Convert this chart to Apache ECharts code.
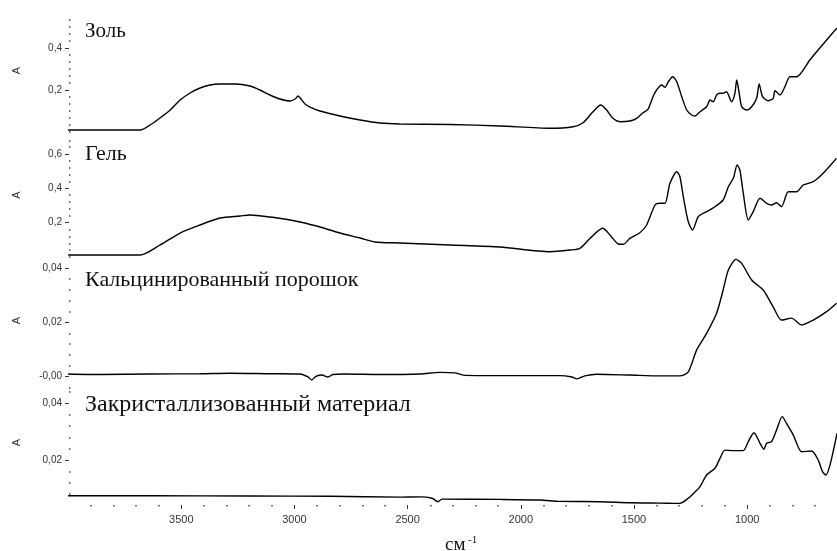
<!DOCTYPE html>
<html><head><meta charset="utf-8">
<script src="https://cdn.jsdelivr.net/npm/echarts@6/dist/echarts.min.js"></script>
<style>html,body{margin:0;padding:0;background:#fff}#c{width:837px;height:551px}</style>
</head><body><div id="c"></div>
<script>
// ---- data (wavenumber, cm-1 / absorbance A) ----
const solWn = [4000,3859,3682,3638,3594,3549,3505,3461,3417,3373,3329,3262,3196,3152,3108,3064,3019,2997,2984,2971,2953,2931,2887,2799,2710,2622,2534,2313,2092,1871,1769,1725,1681,1647,1621,1593,1562,1518,1488,1460,1438,1416,1400,1378,1363,1348,1329,1311,1289,1267,1245,1231,1208,1179,1164,1150,1135,1120,1107,1091,1069,1054,1046,1035,1024,1002,980,958,947,932,907,885,877,855,833,811,781,723,679,603];
const solA = [0.0095,0.0095,0.0095,0.0333,0.0667,0.1048,0.1524,0.1857,0.2095,0.2238,0.2286,0.2286,0.2190,0.2000,0.1762,0.1571,0.1476,0.1571,0.1714,0.1571,0.1333,0.1190,0.1000,0.0762,0.0571,0.0429,0.0381,0.0357,0.0286,0.0176,0.0252,0.0443,0.0967,0.1286,0.1048,0.0652,0.0490,0.0524,0.0652,0.0919,0.1081,0.1681,0.2000,0.2238,0.2129,0.2395,0.2633,0.2395,0.1681,0.1048,0.0810,0.0762,0.0967,0.1205,0.1524,0.1443,0.1762,0.1843,0.1843,0.1919,0.1443,0.1843,0.2476,0.1843,0.1205,0.1048,0.1205,0.1605,0.2286,0.1681,0.1490,0.1605,0.1967,0.1762,0.2157,0.2633,0.2633,0.3429,0.4000,0.4952];

const gelWn = [4000,3682,3594,3505,3417,3329,3240,3196,3108,3019,2975,2887,2799,2710,2644,2534,2313,2092,1871,1783,1739,1694,1638,1606,1569,1547,1518,1474,1444,1407,1385,1363,1341,1311,1297,1282,1260,1241,1216,1179,1142,1106,1083,1061,1044,1032,1017,995,973,943,914,892,870,848,818,782,752,708,664,605];
const gelA = [0.0119,0.0119,0.0701,0.1400,0.1866,0.2274,0.2390,0.2448,0.2332,0.2157,0.2041,0.1750,0.1400,0.1109,0.0876,0.0818,0.0701,0.0585,0.0311,0.0410,0.0509,0.1091,0.1674,0.1284,0.0759,0.0742,0.1091,0.1418,0.1866,0.3031,0.3130,0.3130,0.4295,0.4970,0.4679,0.3514,0.2058,0.1575,0.2349,0.2641,0.2932,0.3322,0.4097,0.4586,0.5361,0.5069,0.3712,0.2157,0.2641,0.3421,0.3130,0.3031,0.3165,0.2932,0.3805,0.3805,0.4196,0.4388,0.4877,0.5751];

const calcWn = [4000,3859,3638,3417,3284,3108,2975,2940,2924,2905,2878,2852,2830,2777,2622,2445,2357,2291,2255,2092,1827,1774,1752,1717,1665,1518,1385,1297,1260,1223,1179,1135,1106,1083,1049,1024,980,929,885,848,804,760,708,649,605];
const calcA = [0.0010,0.0008,0.0010,0.0011,0.0013,0.0011,0.0010,-0.0001,-0.0012,0.0001,0.0006,-0.0001,0.0008,0.0010,0.0008,0.0010,0.0016,0.0014,0.0006,0.0004,0.0004,-0.0001,-0.0008,0.0003,0.0009,0.0006,0.0003,0.0003,0.0018,0.0099,0.0160,0.0234,0.0320,0.0394,0.0433,0.0418,0.0357,0.0320,0.0258,0.0209,0.0216,0.0191,0.0209,0.0240,0.0271];

const crysWn = [4000,3638,3196,2843,2534,2445,2392,2366,2348,2092,1915,1827,1650,1518,1385,1297,1260,1231,1208,1179,1142,1120,1098,1061,1017,995,970,943,926,914,892,870,845,826,796,759,715,686,667,652,634,612,603];
const crysA = [0.0074,0.0074,0.0073,0.0072,0.0069,0.0070,0.0065,0.0053,0.0062,0.0061,0.0059,0.0054,0.0053,0.0049,0.0048,0.0047,0.0065,0.0087,0.0106,0.0147,0.0171,0.0206,0.0235,0.0233,0.0233,0.0265,0.0296,0.0259,0.0238,0.0259,0.0265,0.0306,0.0353,0.0329,0.0288,0.0229,0.0232,0.0200,0.0159,0.0147,0.0182,0.0259,0.0294];

// ---- tick labels ----
const xTickValues = [3500, 3000, 2500, 2000, 1500, 1000];
const solTicks = [0.2, 0.4];   const solTickText = ['0,2', '0,4'];
const gelTicks = [0.2, 0.4, 0.6]; const gelTickText = ['0,2', '0,4', '0,6'];
const calcTicks = [0, 0.02, 0.04]; const calcTickText = ['-0,00', '0,02', '0,04'];
const crysTicks = [0.02, 0.04]; const crysTickText = ['0,02', '0,04'];
const titles = ['Золь', 'Гель', 'Кальцинированный порошок', 'Закристаллизованный материал'];

// ---- layout ----
const panels = [
  {wn: solWn, a: solA, ticks: solTicks, text: solTickText, top: 15, bot: 136, min: -0.019, max: 0.557, step: 0.2/6, titleTop: 21, fs: 21},
  {wn: gelWn, a: gelA, ticks: gelTicks, text: gelTickText, top: 140, bot: 260, min: -0.0172, max: 0.6817, step: 0.04, titleTop: 143, fs: 22},
  {wn: calcWn, a: calcA, ticks: calcTicks, text: calcTickText, top: 263, bot: 388, min: -0.00417, max: 0.04196, step: 0.004, titleTop: 269, fs: 22},
  {wn: crysWn, a: crysA, ticks: crysTicks, text: crysTickText, top: 390, bot: 505, min: 0.00413, max: 0.04469, step: 0.004, titleTop: 393, fs: 24}
];
const xMin = 603, xMax = 3996;
const xMinor = [];
for (let v = 3900; v >= 700; v -= 100) if (v % 500 !== 0) xMinor.push(v);

function minorTicks(p) {
  const out = [];
  for (let k = Math.ceil(p.min / p.step - 1e-6); k * p.step <= p.max + 1e-9; k++) {
    const v = k * p.step;
    if (p.ticks.some(t => Math.abs(t - v) < p.step * 0.3)) continue;
    out.push(+v.toFixed(6));
  }
  return out;
}

const tickColor = '#333';
const grid = [], xAxis = [], yAxis = [], series = [], title = [];
panels.forEach((p, i) => {
  grid.push({left: 69, right: 0, top: p.top, height: p.bot - p.top, outerBoundsMode: 'none', containLabel: false});
  const isLast = i === panels.length - 1;
  xAxis.push({
    gridIndex: i, type: 'value', inverse: true, min: xMin, max: xMax, show: isLast,
    axisLine: {show: false}, splitLine: {show: false},
    axisTick: {show: true, length: 4, customValues: xTickValues, lineStyle: {color: tickColor, width: 1}},
    axisLabel: {customValues: xTickValues, fontSize: 11, color: '#333', margin: 9, fontFamily: 'Liberation Sans, Arial, sans-serif',
      formatter: v => String(Math.round(v))}
  });
  yAxis.push({
    gridIndex: i, type: 'value', min: p.min, max: p.max, position: 'left',
    axisLine: {show: false}, splitLine: {show: false},
    axisTick: {show: true, length: 4, customValues: p.ticks, lineStyle: {color: tickColor, width: 1}},
    axisLabel: {customValues: p.ticks, fontSize: 10, color: '#333', margin: 7, fontFamily: 'Liberation Sans, Arial, sans-serif',
      formatter: v => { let j = 0, d = Infinity; p.ticks.forEach((t, k) => { if (Math.abs(t - v) < d) { d = Math.abs(t - v); j = k; } }); return p.text[j]; }},
    name: 'A', nameLocation: 'middle', nameGap: 47, nameRotate: 90, nameMoveOverlap: false,
    nameTextStyle: {fontSize: 11, color: '#333', fontFamily: 'Liberation Sans, Arial, sans-serif', padding: [0, 0, 0, 10]}
  });
  yAxis.push({
    gridIndex: i, type: 'value', min: p.min, max: p.max, position: 'left', offset: 0,
    axisLine: {show: false}, splitLine: {show: false}, axisLabel: {show: false},
    axisTick: {show: true, inside: true, length: 1.5, customValues: minorTicks(p), lineStyle: {color: '#444', width: 1.5}}
  });
  series.push({
    type: 'line', xAxisIndex: i, yAxisIndex: 2 * i, showSymbol: false, symbol: 'none', clip: false,
    smooth: 0.25, lineStyle: {color: '#000', width: 1.4}, silent: true,
    data: p.wn.map((w, j) => [w, p.a[j]])
  });
  title.push({text: titles[i], left: 85, top: p.titleTop, padding: 0,
    textStyle: {fontFamily: 'Liberation Serif, Times New Roman, serif', fontSize: p.fs, fontWeight: 'normal', color: '#111'}});
});
// minor x ticks on bottom axis
xAxis.push({
  gridIndex: 3, type: 'value', inverse: true, min: xMin, max: xMax, position: 'bottom', offset: 0,
  axisLine: {show: false}, splitLine: {show: false}, axisLabel: {show: false},
  axisTick: {show: true, length: 1.5, customValues: xMinor, lineStyle: {color: '#444', width: 1.5}}
});

const chart = echarts.init(document.getElementById('c'), null, {renderer: 'canvas'});
chart.setOption({
  animation: false,
  backgroundColor: '#fff',
  title, grid, xAxis, yAxis, series,
  graphic: [
    {type: 'text', left: 445, top: 536, style: {text: 'см', font: '19px "Liberation Serif", serif', fill: '#111'}},
    {type: 'text', left: 468, top: 535, style: {text: '-1', font: '11px "Liberation Serif", serif', fill: '#111'}}
  ]
});
</script></body></html>
